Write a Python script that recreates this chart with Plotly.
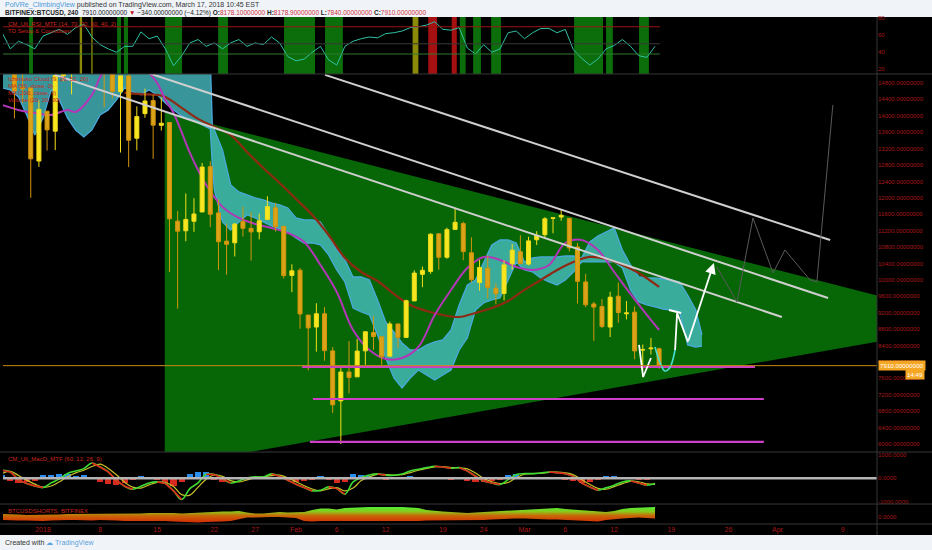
import plotly.graph_objects as go
import pandas as pd

# ---------------- DATA ----------------
candle_dates = pd.date_range('2017-12-27 12:00', '2018-03-17 12:00', freq='D')
opens = [15750, 15864, 14695, 14681, 12897,
         14112, 13625, 14978, 15270, 15477, 17462, 17527, 16476, 15123, 14588, 14968, 13453, 14052, 14370, 13767,
         13836, 11432, 11198, 11429, 11656, 12760, 11633, 10944, 10904, 11421, 11256, 11174, 11475, 11756, 11306, 10109,
         10237, 9142, 8852, 9175, 8270, 7051, 7755, 7637, 8271, 8720, 8616, 8141, 8927, 8599, 9488, 10135, 10207, 11123,
         10552, 11231, 11373, 10660, 9937, 10287, 9796, 9669, 10393, 10687,
         10385, 10978, 11101, 11497, 11532, 11500, 10803, 9951, 9414, 9350, 8852, 9602, 9174, 9214, 8290, 8322, 8321]
highs = [16940, 15888, 15279, 14681, 14377,
         14112, 15444, 15572, 15739, 17705, 17712, 17579, 16537, 15497, 14973, 15018, 14229, 14659, 14511, 14445,
         13843, 11678, 12107, 11992, 12850, 12889, 11966, 11377, 11388, 11786, 11656, 11614, 12040, 11876, 11307, 10381,
         10288, 9142, 9430, 9334, 8364, 7850, 8509, 8558, 8737, 9122, 8616, 8985, 8927, 9518, 10235, 10324, 11139, 11123,
         11273, 11750, 11418, 11039, 10487, 10597, 9923, 10475, 10878, 11089,
         11052, 11189, 11528, 11512, 11704, 11500, 10900, 10147, 9466, 9531, 9711, 9937, 9484, 9355, 8425, 8585, 8346]
lows = [15114, 13937, 14307, 12000, 12755,
        13154, 13163, 14844, 14522, 15202, 16764, 16088, 14208, 14424, 13105, 12750, 13158, 13952, 12950, 13641,
        10194, 9300, 10942, 11172, 11656, 11288, 10240, 10129, 10572, 11057, 10470, 10989, 11475, 11179, 10036, 9701,
        8812, 7796, 8251, 8031, 6756, 6000, 7236, 7637, 7931, 8295, 7931, 8141, 8334, 8599, 9488, 9824, 10150, 10249,
        10514, 11231, 10479, 9939, 9734, 9546, 9407, 9501, 10246, 10393,
        10352, 10850, 11002, 11136, 11443, 10694, 9422, 9336, 8513, 8828, 8607, 8956, 9036, 8068, 7783, 8181, 7840]
closes = [15838, 14606, 14656, 12952, 14156,
          13657, 14982, 15201, 15599, 17429, 17527, 16477, 15170, 14595, 14973, 13405, 13980, 14360, 13772, 13819,
          11490, 11188, 11474, 11607, 12750, 11600, 10931, 10868, 11359, 11259, 11171, 11440, 11786, 11296, 10106, 10221,
          9170, 8830, 9174, 8277, 6955, 7754, 7621, 8265, 8736, 8621, 8129, 8926, 8598, 9494, 10166, 10233, 11112, 10551,
          11225, 11403, 10690, 10005, 10301, 9813, 9664, 10366, 10725, 10397,
          10951, 11086, 11489, 11512, 11573, 10780, 9965, 9395, 9337, 8866, 9578, 9205, 9194, 8269, 8300, 8338, 7910]

ind_dates = pd.date_range('2017-12-27', '2018-03-17', freq='D')
rsi = [63, 44, 53, 49, 44, 59, 63, 67, 61, 69, 73, 58, 49, 44, 40, 47, 47, 64, 56, 59,
       44, 24, 36, 51, 55, 47, 51, 44, 51, 55, 47, 51, 49, 58, 51, 35, 30, 32, 40, 47,
       31, 25, 47, 53, 56, 58, 57, 62, 63, 65, 69, 70, 72, 76, 67, 66, 69, 45, 38, 49,
       40, 44, 63, 65, 56, 63, 68, 68, 63, 67, 43, 33, 25, 32, 44, 48, 55, 47, 36, 34, 47]
macd = [340, 270, -57, -227, -326, -397, -199, -28, 199, 312,
        411, 651, 482, 270, -85, -340, -469, -340, -199, -156,
        -227, -540, -907, -440, -199, 170, 156, -14, -199, -113,
        14, 57, 57, 185, 85, -85, -255, -397, -540, -511,
        -369, -440, -680, -156, 28, 142, 185, 128, 128, 185,
        312, 383, 454, 511, 482, 425, 454, 312, 85, -113,
        -199, -270, -57, 156, 199, 199, 227, 270, 241, 199,
        85, -199, -369, -511, -411, -298, -156, -113, -199, -298, -227]
signal = [200, 300, 120, -80, -250, -380, -330, -150, 60, 230,
          340, 500, 600, 420, 150, -170, -380, -420, -280, -180,
          -180, -350, -700, -720, -380, -40, 140, 80, -100, -160,
          -70, 20, 60, 110, 130, 20, -150, -320, -460, -540,
          -450, -400, -540, -420, -100, 60, 160, 160, 130, 150,
          240, 340, 420, 480, 500, 460, 440, 400, 220, 0,
          -150, -230, -180, 20, 170, 200, 210, 250, 260, 230,
          150, -50, -260, -430, -470, -360, -230, -130, -150, -240, -260]
hist = [150, -120, -200, -180, -100, 120, 150, 180, 160, 100,
        140, 60, -150, -250, -280, -200, -80, 100, 60, -40,
        -200, -330, -150, 200, 280, 250, -80, -150, 70, 50,
        20, -20, -30, 60, -30, -60, -150, -120, -50, 90,
        -60, -200, -150, 200, 150, 100, -30, -40, -20, 20,
        80, 60, 40, 30, -20, -40, -30, -100, -180, -160,
        -120, -60, 150, 170, 60, 30, 30, 20, -20, -40,
        -120, -200, -170, -60, 90, 110, 40, -30, -60, -50, 60]
shorts_top = [3, 3, 2.5, 2, 2, 2, 2.5, 2.5, 3, 3,
              3.5, 3, 3, 3.5, 3.5, 3, 3, 3.5, 4, 4,
              4.5, 4, 3.5, 4, 4.5, 5, 5, 5.5, 5.5, 6,
              4.5, 3.5, 3.5, 4.5, 5, 4.5, 5, 5, 7, 8.5,
              8.5, 7.5, 9, 9.5, 9.5, 10, 10, 10, 10.5, 10,
              9.5, 9, 7, 6, 5.5, 5, 4.5, 4, 4.5, 5,
              5.5, 6, 6.5, 7, 7.5, 8, 8.5, 9, 9, 8,
              7.5, 7, 6, 5.5, 5, 6, 8, 9, 9.5, 10, 10]
shorts_bot = [-3, -3.5, -3.5, -3.5, -4, -4, -3.5, -3, -3, -3,
              -3.5, -3.5, -3, -3, -3.5, -4, -4, -3.5, -3.5, -4,
              -4, -4.5, -5, -5, -5.5, -5, -5, -4.5, -4, -2.5,
              -0.5, -0.5, 0, 0, 0, -0.5, -1, -4, -4.5, -4,
              -4, -4.5, -4, -4, -4, -4, -4.5, -4.5, -4, -4,
              -4, -4, -3.5, -3.5, -3.5, -3, -3, -3, -3, -3,
              -2.5, -2, -2, -1.5, -1.5, -2, -2, -2.5, -2.5, -3,
              -3.5, -4, -4.5, -4.5, -3, -2, -1.5, -1, -0.5, -1, -1.5]

# Ichimoku cloud (upper / lower edges)
cloud_dates = ['2017-12-27', '2017-12-28', '2017-12-29', '2017-12-30', '2017-12-31',
               '2018-01-01', '2018-01-02', '2018-01-03', '2018-01-04', '2018-01-05',
               '2018-01-06', '2018-01-07', '2018-01-08', '2018-01-09', '2018-01-10',
               '2018-01-11', '2018-01-12', '2018-01-13', '2018-01-14', '2018-01-15',
               '2018-01-16', '2018-01-17', '2018-01-18', '2018-01-19', '2018-01-20',
               '2018-01-21', '2018-01-21 12:00', '2018-01-21 18:00', '2018-01-22', '2018-01-23',
               '2018-01-24', '2018-01-25', '2018-01-26', '2018-01-27', '2018-01-28',
               '2018-01-29', '2018-01-30', '2018-01-31', '2018-02-01', '2018-02-02',
               '2018-02-03', '2018-02-04', '2018-02-05', '2018-02-06', '2018-02-07',
               '2018-02-08', '2018-02-09', '2018-02-10', '2018-02-11', '2018-02-12',
               '2018-02-13', '2018-02-14', '2018-02-15', '2018-02-16', '2018-02-17',
               '2018-02-18', '2018-02-19', '2018-02-20', '2018-02-21', '2018-02-22',
               '2018-02-23', '2018-02-24', '2018-02-25', '2018-02-26', '2018-02-27',
               '2018-02-28', '2018-03-01', '2018-03-02', '2018-03-03', '2018-03-04',
               '2018-03-05', '2018-03-06', '2018-03-07', '2018-03-08', '2018-03-09',
               '2018-03-10', '2018-03-11', '2018-03-12', '2018-03-13', '2018-03-14',
               '2018-03-15', '2018-03-16', '2018-03-17', '2018-03-18', '2018-03-19',
               '2018-03-20', '2018-03-21', '2018-03-22', '2018-03-22 18:00']
cloud_top = [15400, 15400, 15400, 15400, 15400,
             15400, 15400, 15400, 15400, 15400,
             15400, 15400, 15400, 15400, 15400,
             15400, 15400, 15400, 15400, 15400,
             15400, 15400, 15400, 15400, 15400,
             15400, 15400, 13777, 13655, 13168,
             12315, 12144, 12071, 11997, 11949,
             11876, 11827, 11754, 11510, 11461,
             11461, 11412, 11095, 10730, 10486,
             10071, 10071, 9998, 9511, 8974,
             8730, 8462, 8292, 8292, 8414,
             8487, 8536, 8779, 9389, 9876,
             9998, 10437, 10852, 10974, 10974,
             10900, 10437, 10535, 10559, 10559,
             10559, 10583, 10583, 10535, 10925,
             11071, 11169, 11266, 10730, 10364,
             10071, 10047, 10047, 10023, 9998,
             9950, 9633, 9267, 8657]
cloud_bot = [14680, 14631, 14460, 14021, 13533,
             13948, 14631, 14387, 13948, 13655,
             13485, 13655, 14021, 14143, 14387,
             14680, 14582, 14509, 14631, 14509,
             14314, 14143, 13997, 13899, 13826,
             13729, 13680, 12802, 12193, 11412,
             11217, 11412, 11583, 11510, 11412,
             11315, 11242, 11169, 11022, 10900,
             10900, 10852, 10608, 10242, 9950,
             9316, 9218, 9145, 8657, 8097,
             7609, 7365, 7609, 7804, 7682,
             7560, 7682, 7804, 8292, 8584,
             9267, 9438, 9511, 9560, 9998,
             10437, 10242, 10193, 10047, 9950,
             9876, 9998, 10193, 10437, 10437,
             10437, 10437, 10437, 10291, 9755,
             9462, 9389, 9340, 9291, 9267,
             9218, 8414, 8365, 8389]

ma_fast_dates = ['2017-12-27', '2017-12-29', '2017-12-31', '2018-01-02', '2018-01-04', '2018-01-05', '2018-01-07',
                 '2018-01-08', '2018-01-09', '2018-01-12', '2018-01-14', '2018-01-15', '2018-01-16', '2018-01-17',
                 '2018-01-19', '2018-01-20', '2018-01-21', '2018-01-23', '2018-01-25', '2018-01-27', '2018-01-29',
                 '2018-01-31', '2018-02-02', '2018-02-04', '2018-02-06', '2018-02-08', '2018-02-10', '2018-02-12',
                 '2018-02-14', '2018-02-16', '2018-02-18', '2018-02-20', '2018-02-22', '2018-02-24', '2018-02-26',
                 '2018-02-28', '2018-03-02', '2018-03-04', '2018-03-06', '2018-03-08', '2018-03-10', '2018-03-12',
                 '2018-03-14', '2018-03-16', '2018-03-17 12:00']
ma_fast = [14265, 14143, 14070, 14021, 14143, 14094, 14509, 14947, 15240, 15360, 15045, 14800, 14387, 14070,
           13095, 12680, 12314, 11780, 11510, 11364, 11266, 11144, 10925, 10364, 9706, 8779, 8292, 8072,
           8097, 8365, 9145, 9755, 10291, 10559, 10486, 10315, 10242, 10364, 10900, 10974, 10730, 10193,
           9657, 9145, 8779]
ma_slow_dates = ['2018-01-11', '2018-01-13', '2018-01-15', '2018-01-16', '2018-01-18', '2018-01-20', '2018-01-22',
                 '2018-01-24', '2018-01-26', '2018-01-28', '2018-01-30', '2018-02-01', '2018-02-03', '2018-02-05',
                 '2018-02-07', '2018-02-09', '2018-02-11', '2018-02-13', '2018-02-15', '2018-02-17', '2018-02-19',
                 '2018-02-21', '2018-02-23', '2018-02-25', '2018-02-27', '2018-03-01', '2018-03-03', '2018-03-05',
                 '2018-03-07', '2018-03-09', '2018-03-11', '2018-03-13', '2018-03-15', '2018-03-17 12:00']
ma_slow = [14560, 14530, 14509, 14460, 14192, 13924, 13729, 13533, 13119, 12729, 12363, 11973, 11583, 11095,
           10535, 10193, 9974, 9657, 9389, 9243, 9145, 9096, 9194, 9316, 9486, 9755, 9998, 10242,
           10437, 10559, 10510, 10364, 10169, 9828]

# triangle pattern vertices
tri_dates = ['2018-01-15 22:00', '2018-04-26 05:00', '2018-01-15 22:00']
tri_prices = [14094, 8950, 5439]

# descending trend lines
trend_start_dates = ['2018-02-04 13:30', '2018-01-13 21:00', '2018-01-02 11:00']
trend_start_prices = [14996, 15045, 14996]
trend_end_dates = ['2018-04-07 11:00', '2018-04-07 05:00', '2018-04-01 13:00']
trend_end_prices = [10974, 9559, 9096]

# horizontal supports
support_levels = [7880, 7097, 6050]
support_start = ['2018-02-01 18:00', '2018-02-03 02:00', '2018-02-02 17:00']
support_end = ['2018-03-29 06:00', '2018-03-30 08:00', '2018-03-30 08:00']

# hand drawings
w_dates = ['2018-03-15 01:00', '2018-03-15 13:00', '2018-03-16 12:00']
w_prices = [8414, 7633, 8097]
cup_dates = ['2018-03-17 00:00', '2018-03-17 14:00', '2018-03-18 05:00', '2018-03-18 19:00', '2018-03-19 11:00']
cup_prices = [8365, 7999, 7780, 7853, 8292]
zig_dates = ['2018-03-19 11:00', '2018-03-19 17:00', '2018-03-21 01:00']
zig_prices = [8292, 9194, 8487]
cap_dates = ['2018-03-18 17:00', '2018-03-20 05:00']
cap_prices = [9267, 9194]
arrow_tail = ('2018-03-21 01:00', 8487)
arrow_head = ('2018-03-24 05:00', 10413)
proj_dates = ['2018-03-24 14:00', '2018-03-27 01:00', '2018-03-29 00:00', '2018-03-31 11:00',
              '2018-04-01 22:00', '2018-04-05 00:00', '2018-04-05 20:00', '2018-04-07 19:00']
proj_prices = [10315, 9462, 11510, 10169, 10730, 9998, 9950, 14265]

# RSI panel highlight bands
band_start = ['2017-12-30 07:00', '2018-01-05 12:00', '2018-01-06 22:00', '2018-01-10 02:00', '2018-01-10 22:00',
              '2018-01-15 23:00', '2018-01-22 11:00', '2018-01-30 13:00', '2018-02-04 13:30', '2018-02-15 07:00',
              '2018-02-17 05:00', '2018-02-20 02:00', '2018-02-21 02:00', '2018-02-22 17:00', '2018-02-24 22:00',
              '2018-03-07 02:00', '2018-03-11 00:00', '2018-03-15 01:00']
band_end = ['2017-12-30 18:30', '2018-01-05 19:00', '2018-01-07 02:00', '2018-01-10 13:30', '2018-01-11 10:00',
            '2018-01-18 01:00', '2018-01-23 16:00', '2018-02-03 08:00', '2018-02-06 18:00', '2018-02-16 00:00',
            '2018-02-18 07:00', '2018-02-20 17:00', '2018-02-21 19:00', '2018-02-23 16:00', '2018-02-26 03:00',
            '2018-03-10 15:00', '2018-03-11 20:00', '2018-03-16 06:00']
band_kind = ['g', 'y', 'y', 'g', 'g', 'g', 'g', 'g', 'g', 'y', 'r', 'r', 'g', 'g', 'g', 'g', 'g', 'g']

price_ticks = [6000, 6400, 6800, 7200, 7600, 8000, 8400, 8800, 9200, 9600, 10000, 10400, 10800,
               11200, 11600, 12000, 12400, 12800, 13200, 13600, 14000, 14400, 14800]
rsi_ticks = [20, 40, 60, 80]
macd_ticks = [-1000, 0, 1000]
macd_tick_text = ['-1000.0000', '0.0000', '1000.0000']
date_ticks = ['2018-01-01', '2018-01-08', '2018-01-15', '2018-01-22', '2018-01-27', '2018-02-01', '2018-02-06',
              '2018-02-12', '2018-02-19', '2018-02-24', '2018-03-01', '2018-03-06', '2018-03-12', '2018-03-19',
              '2018-03-26', '2018-04-01', '2018-04-09']
date_tick_text = ['2018', '8', '15', '22', '27', 'Feb', '6', '12', '19', '24', 'Mar', '6', '12', '19',
                  '26', 'Apr', '9']

# ---------------- FIGURE ----------------
RED_TXT = '#a8181a'
FONT = 'Liberation Sans'
fig = go.Figure()

# triangle (behind candles)
fig.add_trace(go.Scatter(x=tri_dates, y=tri_prices, fill='toself', fillcolor='#076707', zorder=-3,
                         mode='lines', line=dict(width=0), yaxis='y', hoverinfo='skip'))
# cloud
fig.add_trace(go.Scatter(x=cloud_dates, y=cloud_bot, mode='lines', line=dict(color='#4aa9dc', width=1.3),
                         zorder=-2, yaxis='y', hoverinfo='skip'))
fig.add_trace(go.Scatter(x=cloud_dates, y=cloud_top, mode='lines', line=dict(color='#4aa9dc', width=1.3),
                         fill='tonexty', fillcolor='rgba(72,192,198,0.78)', zorder=-2,
                         yaxis='y', hoverinfo='skip'))
# moving averages
fig.add_trace(go.Scatter(x=ma_slow_dates, y=ma_slow, mode='lines', line=dict(color='#8e2a14', width=2.2,
                         shape='spline'), zorder=-1, yaxis='y'))
fig.add_trace(go.Scatter(x=ma_fast_dates, y=ma_fast, mode='lines', line=dict(color='#b436b8', width=2,
                         shape='spline'), zorder=-1, yaxis='y'))
# candles
fig.add_trace(go.Candlestick(x=candle_dates, open=opens, high=highs, low=lows, close=closes,
                             increasing=dict(line=dict(color='#f4de1a', width=1), fillcolor='#f7e620'),
                             decreasing=dict(line=dict(color='#d4950c', width=1), fillcolor='#dba317'),
                             whiskerwidth=0, yaxis='y', hoverinfo='skip'))
# trend lines
for sd, sp, ed, ep in zip(trend_start_dates, trend_start_prices, trend_end_dates, trend_end_prices):
    fig.add_trace(go.Scatter(x=[sd, ed], y=[sp, ep], mode='lines', line=dict(color='#cfcfcf', width=2),
                             zorder=1, yaxis='y', hoverinfo='skip'))
# supports
for lvl, sd, ed in zip(support_levels, support_start, support_end):
    fig.add_trace(go.Scatter(x=[sd, ed], y=[lvl, lvl], mode='lines', line=dict(color='#cc3fc6', width=2.2),
                             zorder=1, yaxis='y', hoverinfo='skip'))
# projections and hand drawings
fig.add_trace(go.Scatter(x=proj_dates, y=proj_prices, mode='lines', line=dict(color='#5a5a5a', width=1),
                         zorder=1, yaxis='y', hoverinfo='skip'))
fig.add_trace(go.Scatter(x=w_dates, y=w_prices, mode='lines', line=dict(color='#ffffff', width=1.8),
                         zorder=1, yaxis='y', hoverinfo='skip'))
fig.add_trace(go.Scatter(x=cup_dates, y=cup_prices, mode='lines', line=dict(color='#46e0d0', width=1.6,
                         shape='spline'), zorder=1, yaxis='y', hoverinfo='skip'))
fig.add_trace(go.Scatter(x=zig_dates, y=zig_prices, mode='lines', line=dict(color='#ffffff', width=1.8),
                         zorder=1, yaxis='y', hoverinfo='skip'))
fig.add_trace(go.Scatter(x=cap_dates, y=cap_prices, mode='lines', line=dict(color='#ffffff', width=2),
                         zorder=1, yaxis='y', hoverinfo='skip'))

# RSI panel
fig.add_trace(go.Scatter(x=ind_dates, y=rsi, mode='lines', line=dict(color='#2fc2a4', width=1),
                         yaxis='y2', hoverinfo='skip'))

# MACD panel
hist_colors = ['#2a8df0' if v >= 0 else '#d62a20' for v in hist]
fig.add_trace(go.Bar(x=ind_dates, y=hist, marker=dict(color=hist_colors, line=dict(width=0)),
                     width=0.75 * 86400000, yaxis='y3', hoverinfo='skip'))
fig.add_trace(go.Scatter(x=ind_dates, y=signal, mode='lines', line=dict(color='#c9c22a', width=1.2,
                         shape='spline'), yaxis='y3', hoverinfo='skip'))
fig.add_trace(go.Scatter(x=ind_dates, y=macd, mode='lines', line=dict(color='#3fdc34', width=1.6,
                         shape='spline'), yaxis='y3', hoverinfo='skip'))
seg_x, seg_y = [], []
for i in range(len(macd) - 1):
    if macd[i + 1] < macd[i]:
        seg_x += [ind_dates[i], ind_dates[i + 1], None]
        seg_y += [macd[i], macd[i + 1], None]
fig.add_trace(go.Scatter(x=seg_x, y=seg_y, mode='lines', line=dict(color='#e3261c', width=1.6),
                         yaxis='y3', hoverinfo='skip', connectgaps=False))

# shorts panel
fig.add_trace(go.Scatter(x=ind_dates, y=shorts_bot, mode='lines', line=dict(width=0), yaxis='y4',
                         hoverinfo='skip'))
fig.add_trace(go.Scatter(x=ind_dates, y=shorts_top, mode='lines', line=dict(width=0), yaxis='y4',
                         fill='tonexty', hoverinfo='skip',
                         fillgradient=dict(type='vertical',
                                           colorscale=[[0, '#d42a06'], [0.45, '#c86a08'], [0.7, '#8cc81a'],
                                                       [1, '#4ef03a']])))

# ---------------- SHAPES ----------------
shapes = []
LIGHT = '#f0f3f8'
shapes.append(dict(type='rect', xref='paper', yref='paper', x0=-0.02, x1=1.08, y0=1.0, y1=1.05,
                   fillcolor=LIGHT, line=dict(width=0), layer='below'))
shapes.append(dict(type='rect', xref='paper', yref='paper', x0=-0.02, x1=1.08, y0=-0.05, y1=0.0,
                   fillcolor=LIGHT, line=dict(width=0), layer='below'))
band_col = {'g': '#0b6e0b', 'y': '#8a8a08', 'r': '#a51010'}
for s, e, k in zip(band_start, band_end, band_kind):
    shapes.append(dict(type='rect', xref='x', yref='y2 domain', x0=s, x1=e, y0=0, y1=1,
                       fillcolor=band_col[k], line=dict(width=0), layer='below'))
for lvl, col in [(70, '#9c1414'), (50, '#3a3a3a'), (38, '#2f7a2f')]:
    shapes.append(dict(type='line', xref='x', yref='y2', x0='2017-12-26', x1='2018-03-17 14:00',
                       y0=lvl, y1=lvl, line=dict(color=col, width=1)))
shapes.append(dict(type='line', xref='paper', yref='y3', x0=0, x1=1, y0=0, y1=0,
                   line=dict(color='#b4b4b4', width=2.5)))
shapes.append(dict(type='line', xref='paper', yref='y', x0=0, x1=1, y0=closes[-1], y1=closes[-1],
                   line=dict(color='#c98a12', width=1)))
for yy in [0.8900, 0.1602, 0.0598, 0.0212]:
    shapes.append(dict(type='line', xref='paper', yref='paper', x0=-0.01, x1=1.07, y0=yy, y1=yy,
                       line=dict(color='#363636', width=1)))
shapes.append(dict(type='line', xref='paper', yref='paper', x0=1, x1=1, y0=0, y1=1,
                   line=dict(color='#363636', width=1)))

# ---------------- ANNOTATIONS ----------------
ann = []
ann.append(dict(xref='paper', yref='paper', x=0, y=1.0232, xanchor='left', yanchor='middle', showarrow=False,
                text="<span style='color:#4a9bd8'>PolVRe_ClimbingView</span> published on TradingView.com, "
                     "March 17, 2018 10:45 EST",
                font=dict(family=FONT, size=7, color='#333333')))
ann.append(dict(xref='paper', yref='paper', x=0, y=1.0077, xanchor='left', yanchor='middle', showarrow=False,
                text="<b>BITFINEX:BTCUSD, 240</b>  7910.00000000 <span style='color:#c0101a'>▼</span> "
                     "−340.00000000 (−4.12%) <b>O:</b><span style='color:#d0303a'>8178.10000000</span> "
                     "<b>H:</b><span style='color:#d0303a'>8178.90000000</span> "
                     "<b>L:</b><span style='color:#d0303a'>7840.00000000</span> "
                     "<b>C:</b><span style='color:#d0303a'>7910.00000000</span>",
                font=dict(family=FONT, size=6.5, color='#222222')))
ann.append(dict(xref='paper', yref='paper', x=0, y=-0.0154, xanchor='left', yanchor='middle', showarrow=False,
                text="Created with <span style='color:#5aa3dc'>☁ TradingView</span>",
                font=dict(family=FONT, size=7, color='#333333')))
legend_items = [(0.9865, 'CM_Ult_RSI_MTF (14, 70, 30, 60, 40, 2)'),
                (0.9730, 'TD Setup & Countdown'),
                (0.8803, 'Ichimoku Cloud (9, 26, 52, 26)'),
                (0.8668, 'MA (50, close, 0)'),
                (0.8533, 'MA (200, close, 0)'),
                (0.8398, 'Volume (20, 20, 30)'),
                (0.1467, 'CM_Ult_MacD_MTF (60, 12, 26, 9)'),
                (0.0463, 'BTCUSDSHORTS, BITFINEX')]
for yy, t in legend_items:
    ann.append(dict(xref='paper', yref='paper', x=0.003, y=yy, xanchor='left', yanchor='middle',
                    showarrow=False, text=t, font=dict(family=FONT, size=6, color='#c8261e')))
ann.append(dict(xref='paper', yref='y', x=1, y=closes[-1], xanchor='left', yanchor='middle', xshift=1,
                showarrow=False, text='%.8f' % closes[-1], bgcolor='#f5a623', borderpad=1,
                font=dict(family=FONT, size=6.2, color='#ffffff')))
ann.append(dict(xref='paper', yref='y', x=1.0549, y=closes[-1], xanchor='right', yanchor='middle', yshift=-9,
                showarrow=False, text='14:49', bgcolor='#f5a623', borderpad=1,
                font=dict(family=FONT, size=6.2, color='#ffffff')))
ann.append(dict(xref='x', yref='y', x=arrow_head[0], y=arrow_head[1], axref='x', ayref='y',
                ax=arrow_tail[0], ay=arrow_tail[1], showarrow=True, arrowhead=2, arrowsize=1.2,
                arrowwidth=1.8, arrowcolor='#ffffff', text=''))

axis_common = dict(showgrid=False, zeroline=False, side='right', anchor='x', ticks='',
                   tickfont=dict(family=FONT, size=6, color=RED_TXT), fixedrange=True)

fig.update_layout(
    width=932, height=550,
    margin=dict(l=3, r=55, t=17, b=15),
    paper_bgcolor='#000000', plot_bgcolor='#000000',
    showlegend=False, bargap=0, hovermode=False,
    shapes=shapes, annotations=ann,
    xaxis=dict(type='date', range=['2017-12-27 02:24', '2018-04-13 04:50'], anchor='y4',
               showgrid=False, zeroline=False, ticks='', tickvals=date_ticks, ticktext=date_tick_text,
               tickfont=dict(family=FONT, size=7, color=RED_TXT), rangeslider=dict(visible=False),
               fixedrange=True),
    yaxis=dict(domain=[0.1602, 0.8900], range=[5805, 15019], tickvals=price_ticks,
               ticktext=['%d.00000000' % v for v in price_ticks], **axis_common),
    yaxis2=dict(domain=[0.8900, 1.0], range=[14.5, 81.5], tickvals=rsi_ticks,
                ticktext=[str(v) for v in rsi_ticks], **axis_common),
    yaxis3=dict(domain=[0.0598, 0.1602], range=[-1100, 1120], tickvals=macd_ticks,
                ticktext=macd_tick_text, **axis_common),
    yaxis4=dict(domain=[0.0212, 0.0598], range=[-7, 13], tickvals=[0], ticktext=['0.0000'], **axis_common),
)

fig.write_html('out.html', config={'displayModeBar': False, 'staticPlot': False},
               post_script="document.body.style.margin='0';document.body.style.overflow='hidden';")
